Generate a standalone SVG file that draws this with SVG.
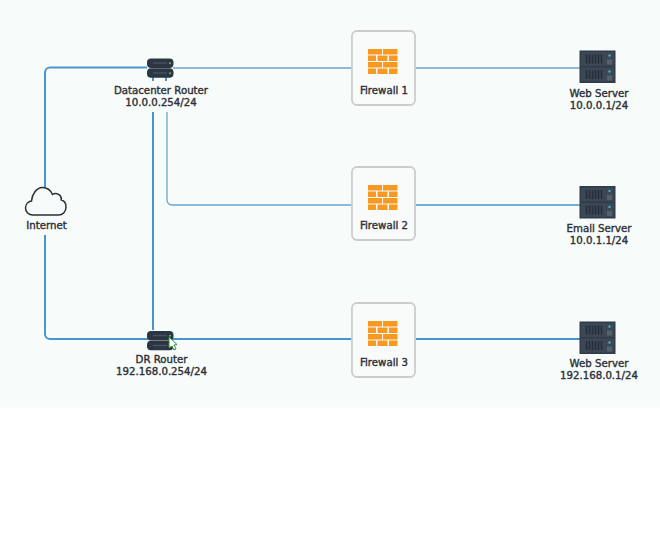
<svg xmlns="http://www.w3.org/2000/svg" width="660" height="541" viewBox="0 0 660 541">
<defs>
<style>
.lbl{font-family:"DejaVu Sans",sans-serif;font-size:10.2px;font-weight:400;fill:#2f3238;stroke:#2f3238;stroke-width:.4px;text-anchor:middle}
.wire{fill:none;stroke:#4a95d0;stroke-width:2}
.thin{fill:none;stroke:#6aa5cf;stroke-width:1.300}
.fwbox{fill:#f8fbfa;stroke:#cbcdcd;stroke-width:1.800}
.brick{fill:#f7981f}
.srv{fill:#2f3b48}
.rt{fill:#2b3642}
.slot{fill:#46525e}
</style>
<g id="brickwall">
<rect class="brick" x="0" y="0" width="14" height="5.500"/><rect class="brick" x="15" y="0" width="14.500" height="5.500"/>
<rect class="brick" x="0" y="6.500" width="8" height="5.500"/><rect class="brick" x="9.500" y="6.500" width="10" height="5.500"/><rect class="brick" x="21" y="6.500" width="8.500" height="5.500"/>
<rect class="brick" x="0" y="13" width="14" height="5.500"/><rect class="brick" x="15" y="13" width="14.500" height="5.500"/>
<rect class="brick" x="0" y="19.500" width="8" height="5.500"/><rect class="brick" x="9.500" y="19.500" width="10" height="5.500"/><rect class="brick" x="21" y="19.500" width="8.500" height="5.500"/>
</g>
<g id="server">
<rect class="srv" x="0" y="0" width="36" height="32.500"/>
<rect x="1.500" y="1.500" width="33" height="14" fill="#3c4855"/><rect x="1.500" y="17" width="33" height="14" fill="#3c4855"/>
<path d="M7 4v9M10 4v9M13 4v9M16 4v9M19 4v9M22 4v9M7 19.500v9M10 19.500v9M13 19.500v9M16 19.500v9M19 19.500v9M22 19.500v9" stroke="#242e38" stroke-width="1.500" fill="none"/>
<circle cx="30" cy="5" r="1.200" fill="#3fb4c4"/><circle cx="30" cy="21" r="1.200" fill="#3fb4c4"/>
<rect x="27.500" y="9" width="5" height="5" fill="#56616c"/><rect x="27.500" y="25" width="5" height="5" fill="#56616c"/>
</g>
<g id="router">
<rect class="rt" x="0" y="0" width="26.500" height="9.500" rx="4"/>
<rect class="rt" x="0" y="9.800" width="26.500" height="9.500" rx="4"/>
<rect class="slot" x="6" y="3.800" width="14" height="1.500"/><rect class="slot" x="6" y="13.800" width="14" height="1.500"/>
<circle cx="23" cy="4.700" r="1" fill="#7db04a"/><circle cx="23" cy="14.700" r="1" fill="#7db04a"/>
</g>
</defs>
<rect width="660" height="541" fill="#ffffff"/>
<rect width="660" height="407.500" fill="#f7fcfa"/>
<text transform="translate(128 522) rotate(-45.500)" font-family="'Liberation Sans',sans-serif" font-weight="700" font-size="41" fill="#000000" fill-opacity="0.014">BRAINDUMPSOA.COM</text>
<g id="connectors">
<path class="wire" d="M147 67.500H50a5 5 0 0 0-5 5V187"/>
<path class="wire" d="M45 235V334a5 5 0 0 0 5 5H148"/>
<path class="wire" d="M153 112V330"/>
<path class="thin" d="M167 112V200a5 5 0 0 0 5 5H352"/>
<path class="thin" d="M173 68H352"/>
<path class="thin" d="M414 68H580"/>
<path class="wire" style="stroke-width:1.500" d="M414 205H580"/>
<path class="wire" d="M172 339H352"/>
<path class="wire" d="M414 339H580"/>
</g>
<g id="internet">
<path d="M33 215c-4.500 0-7.500-3-7.500-7 0-3.500 2.500-6.500 6-7 .5-6.500 5-13.500 11-13.500 4.500 0 8 2.500 10 7 1.500-1 3-1.300 4.500-.8 3 .8 4.500 3.500 4.300 6.300 3.300.8 4.700 3.500 4.700 7 0 4.500-3 8-7.500 8z" fill="none" stroke="#2b2f36" stroke-width="1.500"/>
<text class="lbl" x="46.500" y="229">Internet</text>
</g>
<g id="datacenter-router">
<path d="M153 76v5M166 76v5" stroke="#4a95d0" stroke-width="2"/>
<use href="#router" x="147" y="58.500"/>
<text class="lbl" x="161" y="94">Datacenter Router</text>
<text class="lbl" x="161" y="106">10.0.0.254/24</text>
</g>
<g id="dr-router">
<use href="#router" x="147" y="331"/>
<path d="M169 337l0 11 3-2 2 4 2-1-2-4 3-.5z" fill="#fff" stroke="#2e8b3d" stroke-width="1"/>
<text class="lbl" x="161.500" y="363">DR Router</text>
<text class="lbl" x="161.500" y="375">192.168.0.254/24</text>
</g>
<g id="firewall-1">
<rect class="fwbox" x="352" y="31" width="63" height="74" rx="5"/>
<use href="#brickwall" x="368" y="49"/>
<text class="lbl" x="384" y="94">Firewall 1</text>
</g>
<g id="firewall-2">
<rect class="fwbox" x="352" y="167" width="63" height="73" rx="5"/>
<use href="#brickwall" x="368" y="185"/>
<text class="lbl" x="384" y="229">Firewall 2</text>
</g>
<g id="firewall-3">
<rect class="fwbox" x="352" y="303" width="63" height="74" rx="5"/>
<use href="#brickwall" x="368" y="321"/>
<text class="lbl" x="384" y="366">Firewall 3</text>
</g>
<g id="web-server-1">
<use href="#server" x="579.500" y="50.500"/>
<text class="lbl" x="599" y="97">Web Server</text>
<text class="lbl" x="599" y="109">10.0.0.1/24</text>
</g>
<g id="email-server">
<use href="#server" x="579.500" y="186"/>
<text class="lbl" x="599" y="232">Email Server</text>
<text class="lbl" x="599" y="244">10.0.1.1/24</text>
</g>
<g id="web-server-2">
<use href="#server" x="579.500" y="321.500"/>
<text class="lbl" x="599" y="367">Web Server</text>
<text class="lbl" x="599" y="379">192.168.0.1/24</text>
</g>
</svg>
